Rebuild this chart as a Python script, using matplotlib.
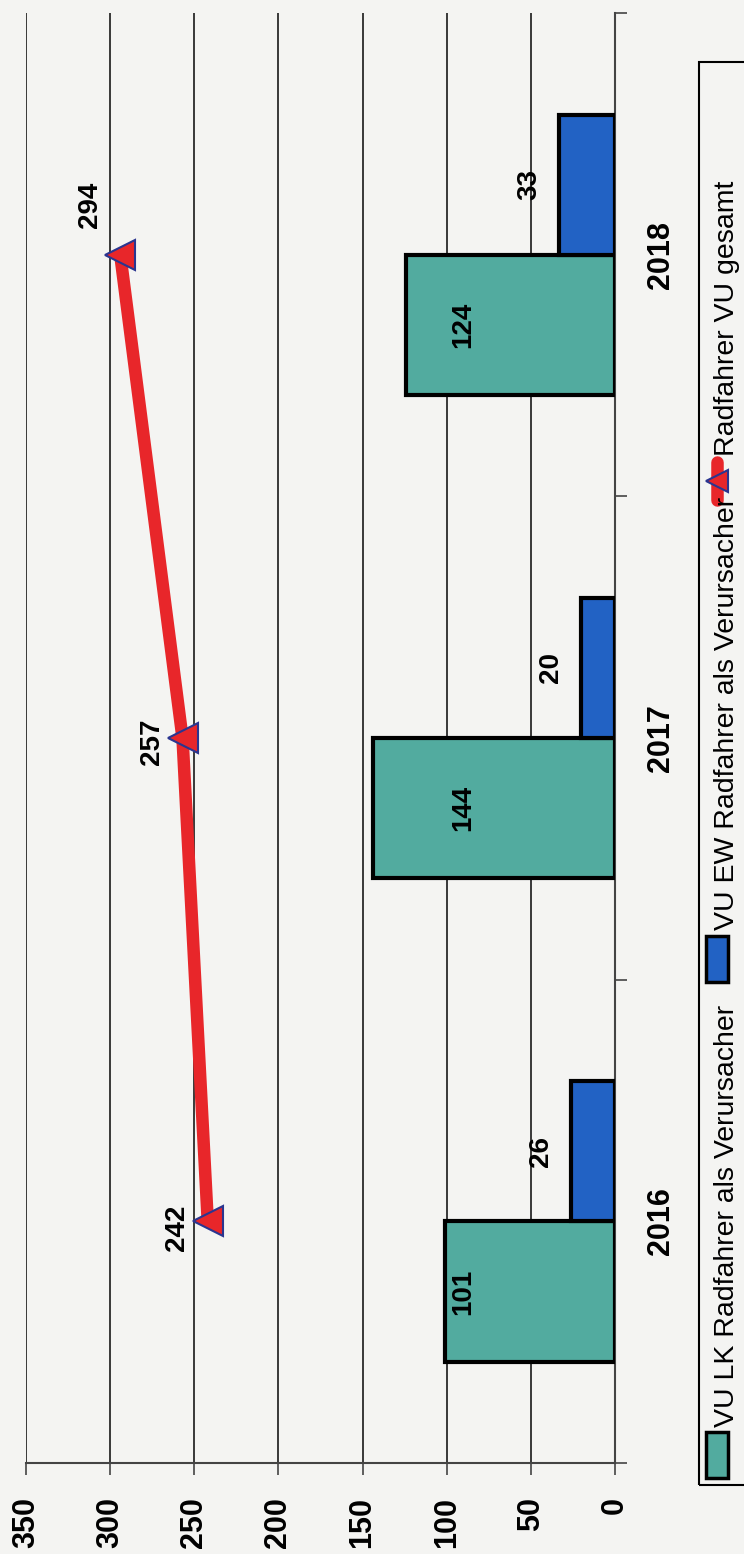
import numpy as np
import matplotlib
matplotlib.use("Agg")
import matplotlib.pyplot as plt
from matplotlib.patches import Rectangle
from matplotlib.lines import Line2D

years = ["2016", "2017", "2018"]
lk = [101, 144, 124]
ew = [26, 20, 33]
total = [242, 257, 294]
legend_labels = ["VU LK Radfahrer als Verursacher",
                 "VU EW Radfahrer als Verursacher",
                 "Radfahrer VU gesamt"]

teal = "#52ab9f"
blue = "#2262c4"
red = "#e8262a"
navy = "#2a3590"

W, H = 744, 1554
fig = plt.figure(figsize=(W / 100, H / 100), dpi=100, facecolor="#f4f4f2")


def fx(px):
    return px / W


def fy(py):
    return 1 - py / H


ax = fig.add_axes([fx(26), fy(1463), fx(615) - fx(26), fy(13) - fy(1463)])
ax.set_facecolor("none")

pos = np.arange(len(years))
h = 0.29
ax.barh(pos - h / 2, lk, height=h, color=teal, edgecolor="black", linewidth=3, zorder=3)
ax.barh(pos + h / 2, ew, height=h, color=blue, edgecolor="black", linewidth=3, zorder=3)
ax.plot(total, pos, color=red, lw=9, marker="<", ms=22, mfc=red, mec=navy, mew=1.5,
        zorder=4, solid_capstyle="butt")

lab = dict(rotation=90, ha="center", va="center", fontsize=20, fontweight="bold",
           family="Liberation Sans", zorder=5)
for p, v in zip(pos, lk):
    ax.text(90, p - h / 2, str(v), **lab)
for p, v in zip(pos, ew):
    ax.annotate(str(v), (v, p + h / 2), xytext=(-22, 0), textcoords="offset points", **lab)
# the last total label sits higher than the others in the original
shift = [-5, -3, 36]
for p, v, s in zip(pos, total, shift):
    ax.annotate(str(v), (v, p), xytext=(-22, s), textcoords="offset points", **lab)

ax.set_xlim(350, 0)
ax.set_xticks(range(0, 351, 50))
ax.set_xticklabels([str(t) for t in range(0, 351, 50)], rotation=90, fontsize=22,
                   fontweight="bold", family="Liberation Sans")
ax.tick_params(axis="x", length=8.6, width=1.2, pad=16, color="#444444")

ax.set_ylim(-0.5, 2.5)
ax.yaxis.tick_right()
ax.set_yticks([-0.5, 0.5, 1.5, 2.5])
ax.set_yticklabels([])
ax.set_yticks(pos, minor=True)
ax.set_yticklabels(years, minor=True, rotation=90, va="center", fontsize=22,
                   fontweight="bold", family="Liberation Sans")
ax.tick_params(axis="y", which="major", length=8.6, width=1.2, color="#444444")
ax.tick_params(axis="y", which="minor", length=0, pad=22)

ax.grid(axis="x", color="#2a2a2a", lw=1.3)
ax.set_axisbelow(True)
for s in ["top", "left"]:
    ax.spines[s].set_visible(False)
for s in ["right", "bottom"]:
    ax.spines[s].set_color("#444444")
    ax.spines[s].set_linewidth(1.5)

# legend, drawn by hand because the text is turned
fig.add_artist(Rectangle((fx(699), fy(1485)), fx(770) - fx(699), fy(62) - fy(1485),
                         transform=fig.transFigure, fill=False, ec="black", lw=1.5))
fig.add_artist(Rectangle((fx(706), fy(1478)), fx(728) - fx(706), fy(1432) - fy(1478),
                         transform=fig.transFigure, fc=teal, ec="black", lw=2.5))
fig.add_artist(Rectangle((fx(706), fy(982)), fx(728) - fx(706), fy(936) - fy(982),
                         transform=fig.transFigure, fc=blue, ec="black", lw=2.5))
fig.add_artist(Line2D([fx(717), fx(717)], [fy(500), fy(462)], transform=fig.transFigure,
                      color=red, lw=9, solid_capstyle="round"))
fig.add_artist(Line2D([fx(717)], [fy(481)], transform=fig.transFigure, marker="<", ms=16,
                      mfc=red, mec=navy, mew=1.5))
leg_font = dict(rotation=90, ha="center", va="bottom", fontsize=20.5,
                family="Liberation Sans")
fig.text(fx(727), fy(1427), legend_labels[0], **leg_font)
fig.text(fx(727), fy(930), legend_labels[1], **leg_font)
fig.text(fx(727), fy(456), legend_labels[2], **leg_font)

fig.savefig("out.png", dpi=100, facecolor=fig.get_facecolor())
